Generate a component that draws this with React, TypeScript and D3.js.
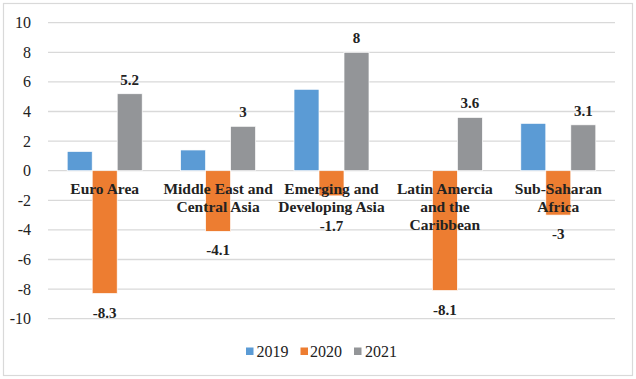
import React from "react";
import * as d3 from "d3";

const categories: string[][] = [
  ["Euro Area"],
  ["Middle East and", "Central Asia"],
  ["Emerging and", "Developing Asia"],
  ["Latin Amercia", "and the", "Caribbean"],
  ["Sub-Saharan", "Africa"],
];
const seriesNames = ["2019", "2020", "2021"];
const values2019 = [1.3, 1.4, 5.5, 0, 3.2];
const values2020 = [-8.3, -4.1, -1.7, -8.1, -3];
const values2021 = [5.2, 3, 8, 3.6, 3.1];
const labeledSeries = ["2020", "2021"];
const yTicks = [10, 8, 6, 4, 2, 0, -2, -4, -6, -8, -10];
const colors = ["#5b9bd5", "#ed7d31", "#939598"];

const W = 636;
const H = 379;
const plotLeft = 48;
const plotRight = 615;
const serif = "Liberation Serif, Times New Roman, serif";

export default function App() {
  const seriesValues = [values2019, values2020, values2021];
  const catKeys = categories.map((c) => c.join(" "));
  const p = 1 - 75 / ((plotRight - plotLeft) / categories.length);
  const x0 = d3
    .scaleBand<string>()
    .domain(catKeys)
    .range([plotLeft, plotRight])
    .paddingInner(p)
    .paddingOuter(p / 2);
  const x1 = d3.scaleBand<string>().domain(seriesNames).range([0, x0.bandwidth()]);
  const y = d3.scaleLinear().domain([-10, 10]).range([318.7, 22.7]);
  const y0 = y(0);

  const legendItems = [
    { x: 246, tx: 256.5 },
    { x: 300.5, tx: 310 },
    { x: 354, tx: 365 },
  ];
  const ts = { fontFamily: serif } as React.CSSProperties;

  return (
    <svg
      width={W}
      height={H}
      style={{ position: "absolute", left: 0, top: 0, background: "#fff", fontFamily: serif }}
    >
      <rect x={0} y={0} width={W} height={H} fill="#fff" />
      <rect x={3.5} y={3.5} width={629} height={372} fill="#fff" stroke="#d9d9d9" strokeWidth={1.2} />
      {yTicks.map((t) => (
        <g key={t}>
          <line x1={plotLeft} x2={plotRight} y1={y(t)} y2={y(t)} stroke="#d9d9d9" strokeWidth={1.3} />
          <text x={31} y={y(t) + 5.5} textAnchor="end" fontSize={16} fill="#222" style={ts}>
            {t}
          </text>
        </g>
      ))}
      {catKeys.map((ck, i) => (
        <g key={ck}>
          {seriesNames.map((s, j) => {
            const v = seriesValues[j][i];
            const bx = (x0(ck) as number) + (x1(s) as number);
            const top = Math.min(y(v), y0);
            const h = Math.abs(y(v) - y0);
            return h > 0 ? (
              <rect
                key={s}
                x={bx}
                y={top}
                width={x1.bandwidth()}
                height={h}
                fill={colors[j]}
                stroke="#fff"
                strokeWidth={0.7}
              />
            ) : null;
          })}
        </g>
      ))}
      {categories.map((lines, i) => {
        const cx = (x0(catKeys[i]) as number) + x0.bandwidth() / 2;
        return (
          <text key={i} x={cx} textAnchor="middle" fontSize={15.5} fontWeight="bold" fill="#222" style={ts}>
            {lines.map((l, k) => (
              <tspan key={k} x={cx} y={y0 + 23.5 + k * 18}>
                {l}
              </tspan>
            ))}
          </text>
        );
      })}
      {catKeys.map((ck, i) =>
        seriesNames.map((s, j) => {
          if (!labeledSeries.includes(s)) return null;
          const v = seriesValues[j][i];
          const cx = (x0(ck) as number) + (x1(s) as number) + x1.bandwidth() / 2;
          const ly = v >= 0 ? y(v) - 9 : Math.max(y(v) + 24, y0 + 60);
          return (
            <text key={ck + s} x={cx} y={ly} textAnchor="middle" fontSize={15} fontWeight="bold" fill="#222" style={ts}>
              {v}
            </text>
          );
        })
      )}
      {seriesNames.map((s, j) => (
        <g key={s}>
          <rect x={legendItems[j].x} y={347.5} width={7.5} height={7.5} fill={colors[j]} />
          <text x={legendItems[j].tx} y={357} fontSize={16} fill="#222" style={ts}>
            {s}
          </text>
        </g>
      ))}
    </svg>
  );
}
